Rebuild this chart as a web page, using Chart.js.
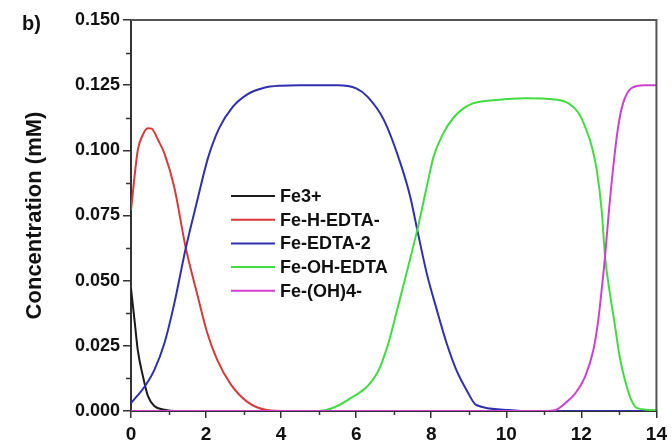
<!DOCTYPE html>
<html>
<head>
<meta charset="utf-8">
<script src="https://cdn.jsdelivr.net/npm/chart.js@4.4.1/dist/chart.umd.min.js"></script>
<style>
  html, body { margin: 0; padding: 0; background: #fff; }
</style>
</head>
<body>
<canvas id="myChart" width="672" height="441"></canvas>
<script>
// x = time-ish axis (0..14), y = concentration (mM)
const fe3X = [0, 0.1, 0.18, 0.32, 0.45, 0.62, 0.89, 1.2, 14];
const fe3Y = [0.047, 0.034, 0.0234, 0.0132, 0.0058, 0.0019, 0.0005, 0, 0];

const feHX = [0, 0.18, 0.3, 0.45, 0.55, 0.72, 0.89, 1.15, 1.46, 1.77, 2.03, 2.3, 2.65, 3.09, 3.62, 4.2, 14];
const feHY = [0.077, 0.100, 0.1055, 0.1085, 0.1083, 0.104, 0.0988, 0.086, 0.0625, 0.0445, 0.030, 0.0195, 0.0104, 0.0036, 0.0004, 0, 0];

const feEdtaX = [0, 0.36, 0.62, 0.89, 1.15, 1.46, 1.77, 2.05, 2.35, 2.7, 3.1, 3.55, 4.0, 4.5, 5.5, 6.0, 6.3, 6.74, 7.18, 7.44, 7.62, 7.88, 8.15, 8.41, 8.67, 8.94, 9.2, 10.07, 10.5, 14];
const feEdtaY = [0.003, 0.0093, 0.0157, 0.026, 0.041, 0.0625, 0.081, 0.097, 0.1085, 0.1165, 0.1215, 0.1240, 0.1248, 0.125, 0.125, 0.1238, 0.1206, 0.1116, 0.095, 0.0822, 0.0700, 0.0528, 0.0387, 0.026, 0.0157, 0.0081, 0.0023, 0.0004, 0, 0];

const feOHX = [0, 5.0, 5.77, 6.56, 6.83, 7.09, 7.36, 7.62, 7.88, 8.06, 8.32, 8.59, 8.85, 9.11, 9.73, 10.5, 11.3, 11.66, 11.93, 12.1, 12.28, 12.41, 12.54, 12.63, 12.76, 12.9, 13.02, 13.16, 13.33, 13.51, 14];
const feOHY = [0, 0, 0.0042, 0.0146, 0.0247, 0.0387, 0.054, 0.069, 0.086, 0.0975, 0.1065, 0.1125, 0.116, 0.118, 0.1193, 0.120, 0.1195, 0.118, 0.1142, 0.109, 0.1014, 0.0924, 0.0771, 0.0592, 0.0451, 0.0323, 0.0208, 0.0119, 0.0042, 0.001, 0.0003];

const feOH4X = [0, 10.96, 11.31, 11.57, 11.84, 12.1, 12.32, 12.45, 12.54, 12.63, 12.72, 12.85, 12.98, 13.11, 13.33, 13.68, 14];
const feOH4Y = [0, 0, 0.0004, 0.003, 0.0068, 0.0132, 0.0234, 0.0349, 0.0464, 0.0592, 0.0745, 0.0937, 0.109, 0.118, 0.1238, 0.125, 0.125];

const seriesNames = ['Fe3+', 'Fe-H-EDTA-', 'Fe-EDTA-2', 'Fe-OH-EDTA', 'Fe-(OH)4-'];
const seriesColors = ['#1a1a1a', '#d83a3a', '#2f2fb0', '#40dc40', '#d040d0'];
const xTicksStep = 2;
const yTicksStep = 0.025;

const FONT = '"Liberation Sans", Arial, sans-serif';

const toPoints = (xs, ys) => xs.map((x, i) => ({ x: x, y: ys[i] }));

const allX = [fe3X, feHX, feEdtaX, feOHX, feOH4X];
const allY = [fe3Y, feHY, feEdtaY, feOHY, feOH4Y];

const datasets = seriesNames.map((name, i) => ({
  label: name,
  data: toPoints(allX[i], allY[i]),
  borderColor: seriesColors[i],
  backgroundColor: seriesColors[i],
  borderWidth: 2,
  pointRadius: 0,
  fill: false,
  cubicInterpolationMode: 'monotone',
  order: seriesNames.length - i   // magenta drawn last (on top)
}));

// small ticks between the labelled ones
const minorTicks = {
  id: 'minorTicks',
  afterDraw(chart) {
    const { ctx, scales: { x, y } } = chart;
    ctx.save();
    ctx.strokeStyle = '#333';
    ctx.lineWidth = 1.5;
    for (let v = yTicksStep / 2; v < y.max; v += yTicksStep) {
      const py = Math.round(y.getPixelForValue(v)) + 0.5;
      ctx.beginPath();
      ctx.moveTo(x.left - 5, py);
      ctx.lineTo(x.left, py);
      ctx.stroke();
    }
    for (let v = xTicksStep / 2; v < x.max; v += xTicksStep) {
      const px = Math.round(x.getPixelForValue(v)) + 0.5;
      ctx.beginPath();
      ctx.moveTo(px, y.bottom);
      ctx.lineTo(px, y.bottom + 4);
      ctx.stroke();
    }
    ctx.restore();
  }
};

// top + right frame lines and the panel letter
const frame = {
  id: 'frame',
  afterDraw(chart) {
    const { ctx, chartArea: a } = chart;
    ctx.save();
    ctx.strokeStyle = '#555';
    ctx.lineWidth = 2;
    ctx.beginPath();
    ctx.moveTo(a.left, a.top);
    ctx.lineTo(a.right, a.top);
    ctx.lineTo(a.right, a.bottom);
    ctx.stroke();
    ctx.fillStyle = '#111';
    ctx.font = 'bold 20px ' + FONT;
    ctx.textBaseline = 'alphabetic';
    ctx.fillText('b)', 22, 30);
    ctx.restore();
  }
};

const legendBox = {
  id: 'legendBox',
  afterDraw(chart) {
    const { ctx, chartArea: a } = chart;
    ctx.save();
    ctx.font = 'bold 18px ' + FONT;
    ctx.textBaseline = 'middle';
    chart.data.datasets.forEach((ds, i) => {
      const yy = a.top + 176 + i * 23.7;
      const x0 = a.left + 100;
      ctx.strokeStyle = ds.borderColor;
      ctx.lineWidth = 2;
      ctx.beginPath();
      ctx.moveTo(x0, yy);
      ctx.lineTo(x0 + 44, yy);
      ctx.stroke();
      ctx.fillStyle = '#111';
      ctx.fillText(ds.label, x0 + 49, yy + 1);
    });
    ctx.restore();
  }
};

const ctx = document.getElementById('myChart').getContext('2d');
new Chart(ctx, {
  type: 'line',
  data: { datasets: datasets },
  plugins: [minorTicks, frame, legendBox],
  options: {
    responsive: false,
    animation: false,
    devicePixelRatio: 1,
    layout: { padding: { left: 0, right: 10, top: 20, bottom: 0 } },
    plugins: {
      legend: { display: false },
      tooltip: { enabled: false }
    },
    scales: {
      x: {
        type: 'linear',
        min: 0,
        max: 14,
        ticks: {
          stepSize: xTicksStep,
          maxRotation: 0,
          padding: 5,
          color: '#111',
          font: { family: FONT, size: 19, weight: 'bold' }
        },
        grid: { drawOnChartArea: false, tickLength: 7, color: '#333', lineWidth: 1.5 },
        border: { color: '#333', width: 2 },
        afterFit: (s) => { s.height = 30; }
      },
      y: {
        min: 0,
        max: 0.15,
        ticks: {
          stepSize: yTicksStep,
          padding: 3,
          color: '#111',
          font: { family: FONT, size: 18, weight: 'bold' },
          callback: (v) => v.toFixed(3)
        },
        grid: { drawOnChartArea: false, tickLength: 8, color: '#333', lineWidth: 1.5 },
        border: { color: '#333', width: 2 },
        title: {
          display: true,
          text: 'Concentration (mM)',
          color: '#111',
          font: { family: FONT, size: 22, weight: 'bold' },
          padding: { top: 22, bottom: 0 }
        },
        afterFit: (s) => { s.width = 131; }
      }
    }
  }
});
</script>
</body>
</html>
